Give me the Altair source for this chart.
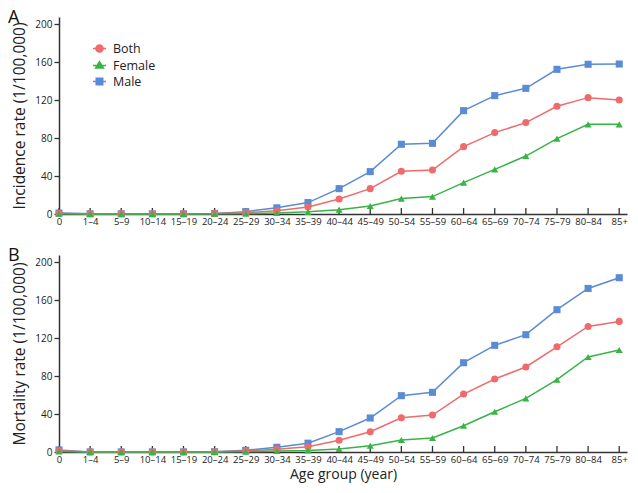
import altair as alt
import pandas as pd

ages = ["0", "1–4", "5–9", "10–14", "15–19", "20–24", "25–29", "30–34", "35–39",
        "40–44", "45–49", "50–54", "55–59", "60–64", "65–69", "70–74", "75–79",
        "80–84", "85+"]
series = ["Both", "Female", "Male"]
colors = ["#EF6B6B", "#38B447", "#5A8BD5"]
shapes = ["circle", "triangle-up", "square"]

inc_both = [0.6, 0.2, 0.2, 0.2, 0.2, 0.4, 1.4, 3.5, 7.4, 15.8, 26.7, 45.0, 46.3,
            70.9, 85.7, 96.2, 113.4, 122.5, 120.0]
inc_female = [0.3, 0.1, 0.1, 0.1, 0.1, 0.2, 0.4, 1.0, 2.3, 4.6, 8.4, 16.2, 18.3,
              33.0, 47.0, 61.0, 79.4, 94.4, 94.4]
inc_male = [1.0, 0.2, 0.2, 0.2, 0.2, 0.6, 2.5, 6.5, 12.0, 26.7, 44.6, 73.4, 74.4,
            108.8, 124.6, 132.3, 152.3, 157.6, 157.9]

mort_both = [1.3, 0.1, 0.1, 0.1, 0.1, 0.2, 1.0, 2.8, 5.5, 12.3, 21.4, 36.1, 38.9,
             61.0, 76.8, 89.5, 110.8, 132.2, 137.5]
mort_female = [0.5, 0.1, 0.1, 0.1, 0.1, 0.1, 0.4, 1.0, 1.7, 3.2, 6.6, 12.6, 14.7,
               27.7, 42.4, 56.4, 76.1, 100.0, 107.4]
mort_male = [2.2, 0.1, 0.1, 0.1, 0.1, 0.3, 1.8, 5.0, 9.3, 21.4, 35.8, 59.3, 62.8,
             94.0, 112.3, 123.5, 149.8, 172.2, 183.5]

y_ticks = [0, 40, 80, 120, 160, 200]

FONT = "Open Sans"
AXIS_COLOR = "#333333"
TEXT_COLOR = "#222222"
W, H = 568, 197


def make_df(both, female, male):
    rows = []
    for name, vals in [("Male", male), ("Both", both), ("Female", female)]:
        for i, v in enumerate(vals):
            rows.append({"idx": i, "age": ages[i], "series": name, "value": v})
    return pd.DataFrame(rows)


label_expr = "[" + ",".join("'" + a + "'" for a in ages) + "][datum.value]"

legend_paths = {
    "Both": "M-1,0H1M0.55,0A0.55,0.55,0,1,1,-0.55,0A0.55,0.55,0,1,1,0.55,0Z",
    "Female": "M-1,0H1M0,-0.6L0.6,0.4L-0.6,0.4Z",
    "Male": "M-1,0H1M-0.5,-0.5H0.5V0.5H-0.5Z",
}
shape_sig = ("datum.value === 'Both' ? '" + legend_paths["Both"] + "' : datum.value === 'Female' ? '"
             + legend_paths["Female"] + "' : '" + legend_paths["Male"] + "'")
fill_sig = ("datum.value === 'Both' ? '" + colors[0] + "' : datum.value === 'Female' ? '"
            + colors[1] + "' : '" + colors[2] + "'")


def panel(df, ytitle, letter, show_legend, show_xtitle):
    x = alt.X("idx:Q",
              scale=alt.Scale(domain=[0, 18.25], nice=False, zero=False),
              axis=alt.Axis(values=list(range(len(ages))), labelExpr=label_expr,
                            tickSize=0, labelPadding=2, grid=False,
                            title="Age group (year)" if show_xtitle else None,
                            titleFontSize=14, titleFont=FONT, titleFontWeight="normal",
                            titleColor=TEXT_COLOR, titlePadding=4,
                            domainColor=AXIS_COLOR, domainWidth=1.5,
                            labelFont=FONT, labelFontSize=9.5, labelColor=TEXT_COLOR,
                            labelFlush=False, labelOverlap=False))
    y = alt.Y("value:Q",
              scale=alt.Scale(domain=[0, 207.4], nice=False),
              axis=alt.Axis(values=y_ticks, title=ytitle, tickSize=5, tickColor=AXIS_COLOR,
                            tickWidth=1.3, labelPadding=2, grid=False,
                            domainColor=AXIS_COLOR, domainWidth=1.5,
                            labelFont=FONT, labelFontSize=10, labelColor=TEXT_COLOR,
                            titleFont=FONT, titleFontSize=15.5, titleFontWeight="normal",
                            titleColor=TEXT_COLOR, titlePadding=7))
    color_scale = alt.Scale(domain=series, range=colors)
    if show_legend:
        leg = alt.Legend(title=None, orient="none", legendX=33, legendY=24,
                         labelFont=FONT, labelFontSize=12.5, labelColor=TEXT_COLOR,
                         symbolSize=169, labelOffset=6, rowPadding=2,
                         symbolType={"expr": shape_sig},
                         symbolFillColor={"expr": fill_sig},
                         symbolStrokeWidth=1.5, symbolOpacity=1)
    else:
        leg = None
    lines = alt.Chart(df).mark_line(strokeWidth=1.5).encode(
        x=x, y=y, color=alt.Color("series:N", scale=color_scale, legend=leg))
    layers = [lines]
    ticks = alt.Chart(pd.DataFrame({"idx": list(range(len(ages)))})).mark_rule(
        color=AXIS_COLOR, strokeWidth=1.3).encode(
        x=x, y=alt.value(H), y2=alt.value(H - 6))
    layers.append(ticks)
    for name in ["Male", "Both", "Female"]:
        i = series.index(name)
        pts = alt.Chart(df).transform_filter(alt.datum.series == name).mark_point(
            filled=True, size=50, opacity=1, shape=shapes[i], color=colors[i]).encode(x=x, y=y)
        layers.append(pts)
    return alt.layer(*layers).properties(
        width=W, height=H,
        title=alt.TitleParams(letter, anchor="start", frame="group", dx=-51, offset=-10,
                              fontSize=18, font=FONT, fontWeight="normal", color="#111111"))


chart_a = panel(make_df(inc_both, inc_female, inc_male), "Incidence rate (1/100,000)", "A", True, False)
chart_b = panel(make_df(mort_both, mort_female, mort_male), "Mortality rate (1/100,000)", "B", False, True)

chart = alt.vconcat(chart_a, chart_b, spacing=21).resolve_legend(
    color="independent").properties(
    padding={"left": 0, "top": 1, "right": 0, "bottom": 2}
).configure_view(stroke=None)

chart.save("out.html", embed_options={"renderer": "svg", "actions": False})
